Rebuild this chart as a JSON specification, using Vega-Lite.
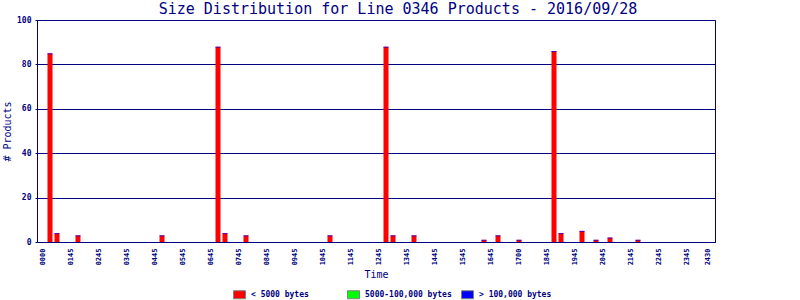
{
  "$schema": "https://vega.github.io/schema/vega-lite/v6.json",
  "width": 678,
  "height": 222,
  "autosize": {"type": "none"},
  "padding": {"left": 37, "top": 20, "right": 85, "bottom": 58},
  "background": "#FFFFFF",
  "title": {
    "text": "Size Distribution for Line 0346 Products - 2016/09/28",
    "font": "DejaVu Sans Mono",
    "fontSize": 15,
    "fontWeight": "normal",
    "color": "#000080",
    "anchor": "middle",
    "frame": "group",
    "dx": 22,
    "dy": 16,
    "baseline": "alphabetic",
    "offset": 3
  },
  "config": {
    "view": {"stroke": "#000080", "strokeWidth": 1},
    "axis": {
      "labelFont": "DejaVu Sans Mono",
      "titleFont": "DejaVu Sans Mono",
      "labelColor": "#000080",
      "titleColor": "#000080",
      "domainColor": "#000080",
      "tickColor": "#000080",
      "gridColor": "#000080",
      "gridOpacity": 1,
      "titleFontWeight": "normal"
    },
    "legend": {
      "labelFont": "DejaVu Sans Mono",
      "labelColor": "#000080"
    }
  },
  "data": {
    "values": [
      {"t": 0.25, "products": 85, "size": "< 5000 bytes"},
      {"t": 0.5, "products": 4, "size": "< 5000 bytes"},
      {"t": 1.25, "products": 3, "size": "< 5000 bytes"},
      {"t": 4.25, "products": 3, "size": "< 5000 bytes"},
      {"t": 6.25, "products": 88, "size": "< 5000 bytes"},
      {"t": 6.5, "products": 4, "size": "< 5000 bytes"},
      {"t": 7.25, "products": 3, "size": "< 5000 bytes"},
      {"t": 10.25, "products": 3, "size": "< 5000 bytes"},
      {"t": 12.25, "products": 88, "size": "< 5000 bytes"},
      {"t": 12.5, "products": 3, "size": "< 5000 bytes"},
      {"t": 13.25, "products": 3, "size": "< 5000 bytes"},
      {"t": 15.75, "products": 1, "size": "< 5000 bytes"},
      {"t": 16.25, "products": 3, "size": "< 5000 bytes"},
      {"t": 17.0, "products": 1, "size": "< 5000 bytes"},
      {"t": 18.25, "products": 86, "size": "< 5000 bytes"},
      {"t": 18.5, "products": 4, "size": "< 5000 bytes"},
      {"t": 19.25, "products": 5, "size": "< 5000 bytes"},
      {"t": 19.75, "products": 1, "size": "< 5000 bytes"},
      {"t": 20.25, "products": 2, "size": "< 5000 bytes"},
      {"t": 21.25, "products": 1, "size": "< 5000 bytes"}
    ]
  },
  "encoding": {
    "x": {
      "field": "t",
      "type": "quantitative",
      "scale": {"domain": [-0.214, 24], "nice": false, "zero": false, "padding": 0},
      "axis": {
        "title": "Time",
        "titleFontSize": 10,
        "titlePadding": 5,
        "values": [0,1,2,3,4,5,6,7,8,9,10,11,12,13,14,15,16,17,18,19,20,21,22,23,23.75],
        "labelExpr": "datum.value == 23.75 ? '2430' : ['0000','0145','0245','0345','0445','0545','0645','0745','0845','0945','1045','1145','1245','1345','1445','1545','1645','1700','1845','1945','2045','2145','2245','2345'][round(datum.value)]",
        "labelAngle": -90,
        "labelFontSize": 7,
        "labelFontWeight": "bold",
        "labelPadding": 6,
        "ticks": false,
        "grid": false,
        "labelOverlap": false,
        "labelFlush": false
      }
    },
    "y": {
      "field": "products",
      "type": "quantitative",
      "scale": {"domain": [0, 100], "nice": false, "padding": 0},
      "axis": {
        "title": "# Products",
        "titleFontSize": 10,
        "titlePadding": 4,
        "values": [0, 20, 40, 60, 80, 100],
        "labelFontSize": 8,
        "labelFontWeight": "bold",
        "tickSize": 2,
        "labelPadding": 4,
        "grid": true
      }
    }
  },
  "layer": [
    {
      "mark": {"type": "bar", "size": 5},
      "encoding": {
        "color": {
          "field": "size",
          "type": "nominal",
          "scale": {
            "domain": ["< 5000 bytes", "5000-100,000 bytes", "> 100,000 bytes"],
            "range": ["#FF0000", "#00FF00", "#0000FF"]
          },
          "legend": {
            "title": null,
            "orient": "none",
            "direction": "horizontal",
            "legendX": 196,
            "legendY": 268,
            "padding": 0,
            "gridAlign": "all",
            "columnPadding": 7,
            "symbolType": "M-1,-0.667H1V0.667H-1Z",
            "symbolSize": 144,
            "symbolStrokeColor": "#808080",
            "symbolStrokeWidth": 1,
            "symbolOpacity": 1,
            "labelFontSize": 8,
            "labelFontWeight": "bold",
            "labelOffset": 5
          }
        }
      }
    },
    {
      "mark": {"type": "tick", "orient": "horizontal", "size": 5, "thickness": 1, "color": "#0000FF", "yOffset": 0.5},
      "encoding": {}
    }
  ]
}
